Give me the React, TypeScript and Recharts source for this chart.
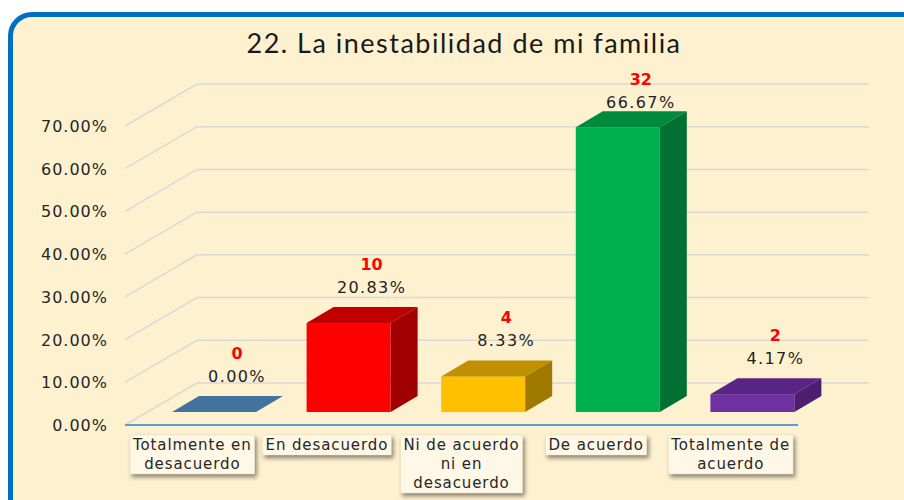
import { BarChart, Bar, XAxis, YAxis, CartesianGrid } from "recharts";

const categories = [
  "Totalmente en desacuerdo",
  "En desacuerdo",
  "Ni de acuerdo ni en desacuerdo",
  "De acuerdo",
  "Totalmente de acuerdo",
];
const counts = [0, 10, 4, 32, 2];
const percents = [0, 20.83, 8.33, 66.67, 4.17];
const yTicks = [0, 10, 20, 30, 40, 50, 60, 70];

// front, top, side colours for each bar
const FACES = [
  ["#44729E", "#44729E", "#3A6189"],
  ["#FF0000", "#C00000", "#A00000"],
  ["#FFC000", "#C09000", "#A07A00"],
  ["#00B050", "#008A3E", "#007033"],
  ["#7030A0", "#582585", "#4A1F70"],
];

const data = categories.map((name, i) => ({ name, pct: percents[i], count: counts[i] }));

// 3D offsets: back wall and bar depth
const WALL_DX = 72;
const WALL_DY = 42;
const BAR_SHIFT_X = 22;
const BAR_SHIFT_Y = 13;
const DEPTH_X = 27;
const DEPTH_Y = 16;

const LABEL_FONT = "'DejaVu Sans', Verdana, sans-serif";

function wrap(text: string, max: number) {
  const words = text.split(" ");
  const lines: string[] = [];
  let cur = "";
  for (const w of words) {
    if (!cur) cur = w;
    else if ((cur + " " + w).length <= max) cur += " " + w;
    else {
      lines.push(cur);
      cur = w;
    }
  }
  if (cur) lines.push(cur);
  return lines;
}

let canvas: HTMLCanvasElement | null = null;
function textWidth(s: string, size: number, spacing: number) {
  if (!canvas) canvas = document.createElement("canvas");
  const ctx = canvas.getContext("2d")!;
  ctx.font = `${size}px 'DejaVu Sans'`;
  return ctx.measureText(s).width + spacing * s.length;
}

const GridLine = (props: any) => {
  const { x1, y1, x2 } = props;
  const pts = `${x1},${y1} ${x1 + WALL_DX},${y1 - WALL_DY} ${x2 + WALL_DX - 1},${y1 - WALL_DY}`;
  return <polyline key={props.key ?? y1} points={pts} fill="none" stroke="#D9D9D9" strokeWidth={1.5} />;
};

const Bar3D = (props: any) => {
  const { x, y, width, height, index } = props;
  const [front, top, side] = FACES[index % FACES.length];
  const fx = x + BAR_SHIFT_X;
  const fy = y - BAR_SHIFT_Y;
  const h = Math.max(0, height);
  const bottom = fy + h;
  const cx = fx + width / 2 + 23;
  // labels sit above the bar, but the tallest one is pulled down under the title
  const ly = Math.max(fy, 138);
  return (
    <g>
      {h > 0 && <rect x={fx} y={fy} width={width} height={h} fill={front} />}
      <polygon
        points={`${fx},${fy} ${fx + DEPTH_X},${fy - DEPTH_Y} ${fx + width + DEPTH_X},${fy - DEPTH_Y} ${fx + width},${fy}`}
        fill={top}
      />
      {h > 0 && (
        <polygon
          points={`${fx + width},${fy} ${fx + width + DEPTH_X},${fy - DEPTH_Y} ${fx + width + DEPTH_X},${bottom - DEPTH_Y} ${fx + width},${bottom}`}
          fill={side}
        />
      )}
      <text x={cx} y={ly - 53} textAnchor="middle" fontFamily={LABEL_FONT} fontWeight="bold" fontSize={16} fill="#FF0000">
        {counts[index]}
      </text>
      <text x={cx} y={ly - 30} textAnchor="middle" fontFamily={LABEL_FONT} fontSize={16} letterSpacing={1.4} fill="#1F1F1F">
        {percents[index].toFixed(2)}%
      </text>
    </g>
  );
};

const YTick = (props: any) => {
  const { y, payload } = props;
  return (
    <text x={108} y={y + 6} textAnchor="end" fontFamily={LABEL_FONT} fontSize={16} letterSpacing={1} fill="#262626">
      {Number(payload.value).toFixed(2)}%
    </text>
  );
};

const XTick = (props: any) => {
  const { x, payload } = props;
  const lines = wrap(String(payload.value), 14);
  const w = Math.max(...lines.map((l) => textWidth(l, 15, 0.9))) + 6;
  const top = 435;
  const lh = 19;
  return (
    <g>
      <rect
        x={x - w / 2}
        y={top}
        width={w}
        height={lines.length * lh + 1}
        fill="#FFF8E6"
        stroke="#E8DFC8"
        strokeWidth={0.5}
        style={{ filter: "drop-shadow(2px 3px 2px rgba(0,0,0,0.45))" }}
      />
      {lines.map((l, i) => (
        <text
          key={i}
          x={x}
          y={top + 15 + i * lh}
          textAnchor="middle"
          fontFamily={LABEL_FONT}
          fontSize={15}
          letterSpacing={0.9}
          fill="#262626"
        >
          {l}
        </text>
      ))}
    </g>
  );
};

export default function App() {
  return (
    <div style={{ position: "absolute", left: 0, top: 0, width: 904, height: 500, overflow: "hidden", background: "#FFFFFF" }}>
      <div
        style={{
          position: "absolute",
          left: 8,
          top: 12,
          width: 940,
          height: 540,
          border: "5px solid #0070C0",
          borderRadius: 24,
          background: "#FEF1CF",
        }}
      />
      <div
        style={{
          position: "absolute",
          left: 464,
          top: 26,
          transform: "translateX(-50%)",
          whiteSpace: "nowrap",
          fontFamily: "Lato, 'Open Sans', sans-serif",
          fontSize: 27,
          letterSpacing: 1.5,
          color: "#1A1A1A",
        }}
      >
        22. La inestabilidad de mi familia
      </div>
      <div style={{ position: "absolute", left: 0, top: 0 }}>
        <BarChart width={904} height={500} data={data} margin={{ top: 126, right: 106, bottom: 15, left: 65 }}>
          <CartesianGrid vertical={false} horizontal={GridLine} />
          <XAxis
            dataKey="name"
            height={60}
            tickLine={false}
            axisLine={{ stroke: "#5B9BD5", strokeWidth: 2 }}
            tick={XTick}
            interval={0}
          />
          <YAxis
            width={60}
            domain={[0, 70]}
            ticks={yTicks}
            axisLine={false}
            tickLine={false}
            tick={YTick}
            interval={0}
          />
          <Bar dataKey="pct" barSize={84} shape={Bar3D} isAnimationActive={false} />
        </BarChart>
      </div>
    </div>
  );
}
